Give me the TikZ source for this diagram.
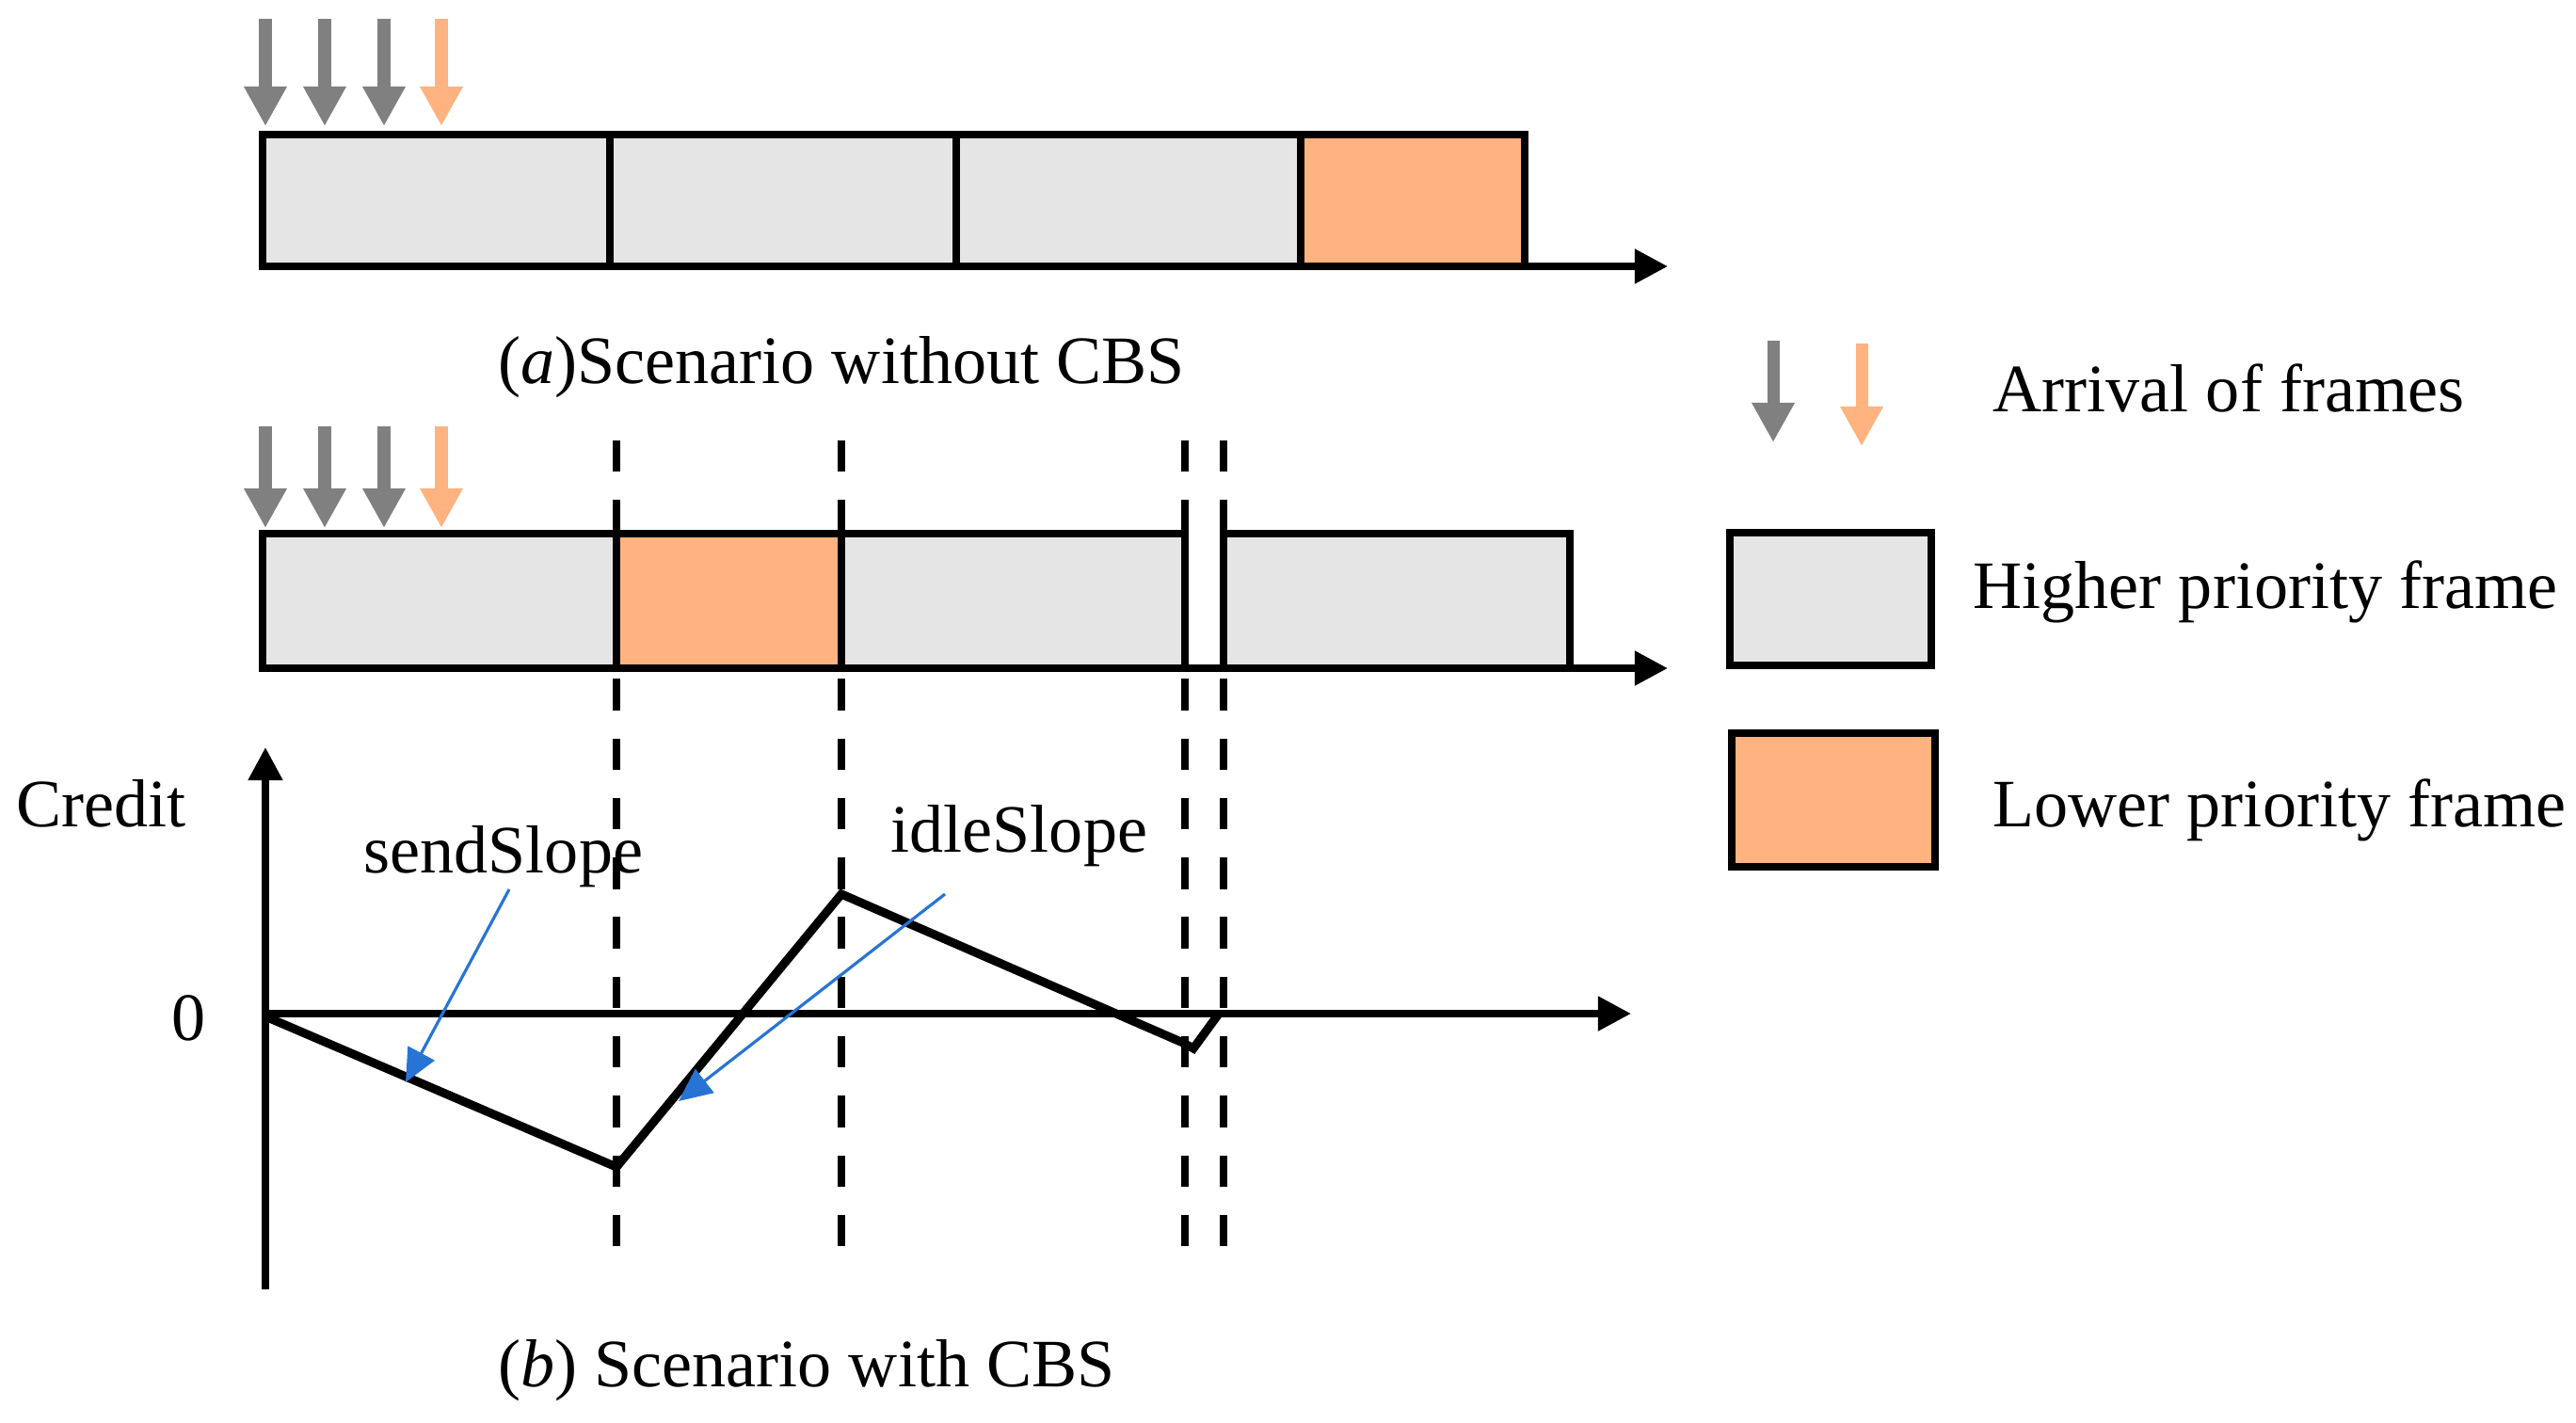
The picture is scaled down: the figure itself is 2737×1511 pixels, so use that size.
\documentclass[tikz,border=0pt]{standalone}
\usepackage{fontspec}
\setmainfont{Liberation Serif}
\usetikzlibrary{arrows.meta}
\definecolor{hgray}{RGB}{229,229,229}
\definecolor{lorange}{RGB}{255,179,128}
\definecolor{agray}{RGB}{128,128,128}
\definecolor{aorange}{RGB}{255,179,128}
\definecolor{bluearr}{RGB}{40,116,212}
\begin{document}
\begin{tikzpicture}[x=0.01cm,y=-0.01cm,
  framebox/.style={draw=black,line width=2.4pt},
  hp/.style={framebox,fill=hgray},
  lp/.style={framebox,fill=lorange},
  axisline/.style={line width=2.2pt,-{Triangle[length=10pt,width=10pt]}},
  arrv/.style={line width=4pt,-{Triangle[length=12pt,width=12.2pt]}},
  sepline/.style={line width=2.5pt,dash pattern=on 9.5pt off 8.5pt},
  curveline/.style={line width=2.6pt,line join=miter},
  pointer/.style={draw=bluearr,line width=0.9pt,-{Triangle[length=10pt,width=9pt]}},
  lbl/.style={font=\fontsize{20.5}{24}\selectfont,inner sep=0pt,anchor=base west}]
\useasboundingbox (0,0) rectangle (2737,1511);

% ---------- (a) scenario without CBS ----------
\coordinate (a0) at (279,143);
\coordinate (a1) at (648,283);
\coordinate (a2) at (1016,283);
\coordinate (a3) at (1382,283);
\coordinate (a4) at (1620,283);
\draw[hp] (a0) rectangle (a1);
\draw[hp] (648,143) rectangle (a2);
\draw[hp] (1016,143) rectangle (a3);
\draw[lp] (1382,143) rectangle (a4);
\coordinate (axA0) at (279,283);
\coordinate (axA1) at (1772,283);
\draw[axisline] (axA0) -- (axA1);

\foreach \x/\c [count=\i] in {282/agray,345/agray,408/agray,469/aorange}{
  \coordinate (ta\i) at (\x,20);
  \coordinate (ha\i) at (\x,134);
  \draw[arrv,draw=\c,fill=\c] (ta\i) -- (ha\i);
}
\node[lbl] (capa) at (529,407) {(\textit{a})Scenario without CBS};

% ---------- (b) scenario with CBS ----------
\foreach \x [count=\i] in {655,894,1259,1300}{
  \coordinate (dt\i) at (\x,468);
  \coordinate (db\i) at (\x,1327);
  \draw[sepline] (dt\i) -- (db\i);
}
\coordinate (b0) at (279,567);
\coordinate (b1) at (1259,710);
\draw[hp] (b0) rectangle (b1);
\draw[lp] (655,567) rectangle (894,710);
\coordinate (b2) at (1300,567);
\coordinate (b3) at (1668,710);
\draw[hp] (b2) rectangle (b3);
\coordinate (axB0) at (279,710);
\coordinate (axB1) at (1772,710);
\draw[axisline] (axB0) -- (axB1);

\foreach \x/\c [count=\i] in {282/agray,345/agray,408/agray,469/aorange}{
  \coordinate (tb\i) at (\x,453);
  \coordinate (hb\i) at (\x,561);
  \draw[arrv,draw=\c,fill=\c] (tb\i) -- (hb\i);
}

% credit graph
\coordinate (yax0) at (282,1370);
\coordinate (yax1) at (282,794);
\draw[axisline] (yax0) -- (yax1);
\coordinate (xax0) at (282,1077);
\coordinate (xax1) at (1733,1077);
\draw[axisline] (xax0) -- (xax1);
\coordinate (c0) at (282,1080);
\coordinate (c1) at (655,1240);
\coordinate (c2) at (894,950);
\coordinate (c3) at (1257,1108);
\coordinate (c4) at (1268,1114);
\coordinate (c5) at (1295,1077);
\draw[curveline] (c0) -- (c1) -- (c2) -- (c3) -- (c4) -- (c5);

\node[lbl] (credit) at (17,878) {Credit};
\node[lbl,anchor=base] (zero) at (201,1105) {0};
\node[lbl] (send) at (386,927) {sendSlope};
\node[lbl] (idle) at (946,905) {idleSlope};
\coordinate (sp0) at (541,945);
\coordinate (sp1) at (431,1150);
\draw[pointer] (sp0) -- (sp1);
\coordinate (ip0) at (1004,950);
\coordinate (ip1) at (721,1170);
\draw[pointer] (ip0) -- (ip1);

\node[lbl] (capb) at (529,1473) {(\textit{b}) Scenario with CBS};

% ---------- legend ----------
\coordinate (lg1) at (1884,362);
\coordinate (lg2) at (1884,470);
\draw[arrv,line width=3.7pt,draw=agray,fill=agray] (lg1) -- (lg2);
\coordinate (lo1) at (1978,365);
\coordinate (lo2) at (1978,474);
\draw[arrv,line width=3.7pt,draw=aorange,fill=aorange] (lo1) -- (lo2);
\node[lbl] (arr) at (2117,437) {Arrival of frames};

\coordinate (lh0) at (1838,566);
\coordinate (lh1) at (2052,707);
\draw[hp] (lh0) rectangle (lh1);
\node[lbl] (hpt) at (2096,646) {Higher priority frame};

\coordinate (ll0) at (1840,779);
\coordinate (ll1) at (2056,921);
\draw[lp] (ll0) rectangle (ll1);
\node[lbl] (lpt) at (2117,878) {Lower priority frame};
\end{tikzpicture}
\end{document}
